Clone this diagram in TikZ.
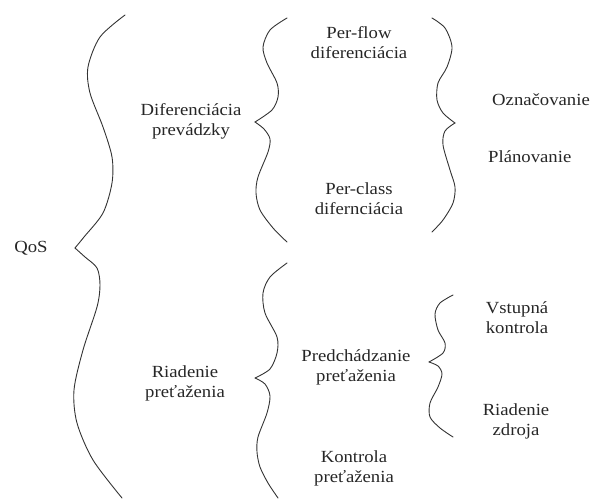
\documentclass[tikz,border=0pt]{standalone}
\usepackage{fontspec}
\setmainfont{Liberation Serif}[FakeStretch=1.1]
\begin{document}
\begin{tikzpicture}[x=1pt,y=-1pt,
  lbl/.style={align=center, inner sep=0pt, font=\fontsize{17}{20}\selectfont, text=black!85},
  brace/.style={line width=0.9pt, draw=black!80, line join=round, line cap=round}]
\useasboundingbox (0,0) rectangle (594,500);

% ---- labels ----
\node[lbl] (qos)  at (31,248) {QoS};
\node[lbl] (dif)  at (191,121) {Diferenciácia\\prevádzky};
\node[lbl] (rp)   at (185,383) {Riadenie\\preťaženia};
\node[lbl] (pf)   at (359,43)  {Per-flow\\diferenciácia};
\node[lbl] (pc)   at (359,199) {Per-class\\difernciácia};
\node[lbl] (ozn)  at (541,100) {Označovanie};
\node[lbl, anchor=west] (plan) at (488,157) {Plánovanie};
\node[lbl] (pred) at (356,367) {Predchádzanie\\preťaženia};
\node[lbl] (kp)   at (354,468) {Kontrola\\preťaženia};
\node[lbl] (vk)   at (517,318) {Vstupná\\kontrola};
\node[lbl] (rz)   at (516,421) {Riadenie\\zdroja};

% ---- big brace: QoS ----
\coordinate (tipQ) at (75,248);
\draw[brace] plot[smooth] coordinates {(125,15) (100,37) (88,67) (90,93) (103,127) (112,157) (112,183) (103,213) (84,237) (tipQ)};
\draw[brace] plot[smooth] coordinates {(tipQ) (85,257) (97,268) (100,285) (97,307) (83,350) (74,390) (77,423) (93,460) (122,498)};

% ---- brace: Diferenciácia prevádzky ----
\coordinate (tipD) at (255,122);
\draw[brace] plot[smooth] coordinates {(287,18) (270,30) (263,47) (267,63) (277,83) (278,97) (272,110) (tipD)};
\draw[brace] plot[smooth] coordinates {(tipD) (264,129) (270,139) (268,152) (258,177) (256,193) (260,210) (273,228) (287,242)};

% ---- brace: Riadenie preťaženia ----
\coordinate (tipR) at (255,378);
\draw[brace] plot[smooth] coordinates {(287,263) (270,277) (263,293) (265,313) (277,337) (277,353) (270,369) (tipR)};
\draw[brace] plot[smooth] coordinates {(tipR) (265,384) (270,396) (267,413) (258,437) (257,452) (260,467) (268,483) (278,498)};

% ---- right brace: Označovanie / Plánovanie ----
\coordinate (tipO) at (455,123);
\draw[brace] plot[smooth] coordinates {(432,18) (445,28) (452,47) (447,67) (438,83) (437,100) (443,113) (tipO)};
\draw[brace] plot[smooth] coordinates {(tipO) (445,131) (443,145) (450,170) (455,187) (453,203) (443,220) (432,232)};

% ---- small brace: Predchádzanie preťaženia ----
\coordinate (tipP) at (429,362);
\draw[brace] plot[smooth] coordinates {(453,295) (440,303) (435,314) (438,330) (445,343) (443,353) (tipP)};
\draw[brace] plot[smooth] coordinates {(tipP) (438,366) (442,374) (438,387) (430,403) (430,417) (440,428) (453,437)};
\end{tikzpicture}
\end{document}
